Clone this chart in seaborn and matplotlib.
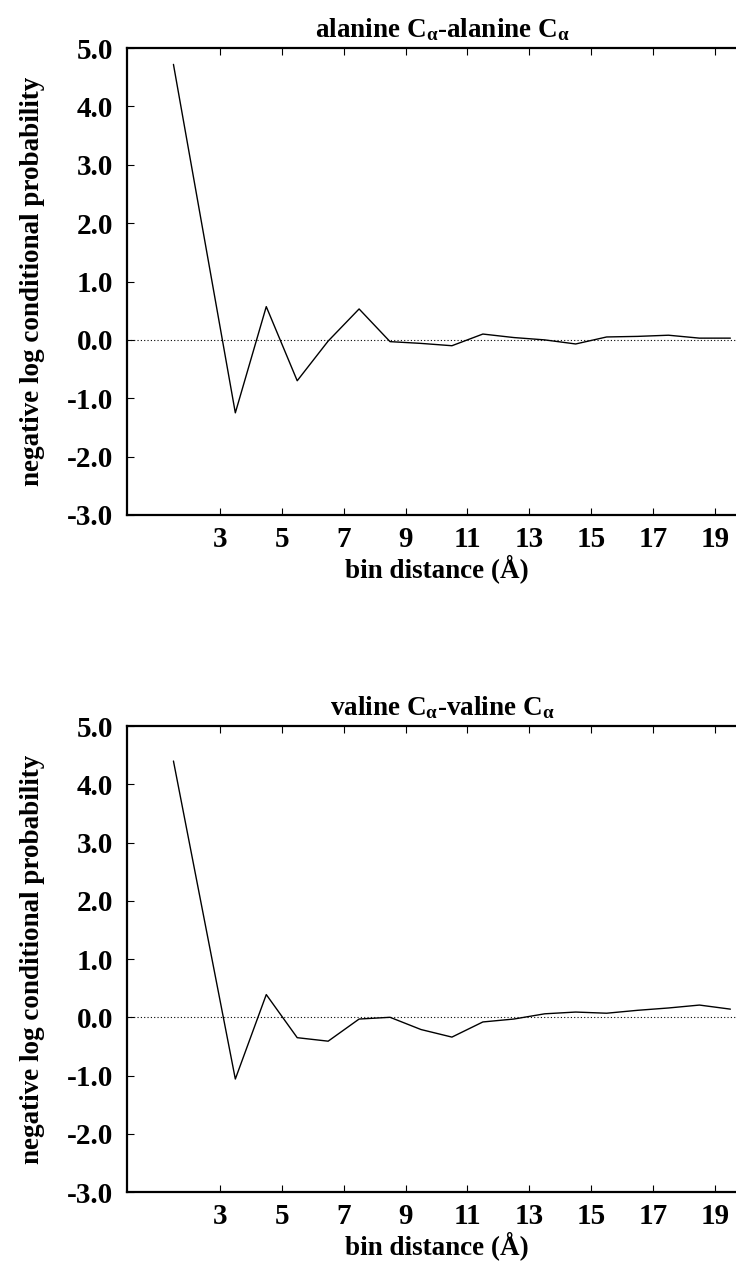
"""Negative log conditional probability vs bin distance, two residue pairs."""
import numpy as np
import pandas as pd
import matplotlib
matplotlib.use('Agg')
import matplotlib.pyplot as plt
import seaborn as sns

sns.set_theme(style="ticks")
plt.rcParams['font.family'] = ['Liberation Serif', 'DejaVu Serif']
plt.rcParams['font.weight'] = 'bold'
plt.rcParams['text.color'] = 'black'
plt.rcParams['axes.labelcolor'] = 'black'
plt.rcParams['mathtext.fontset'] = 'custom'
plt.rcParams['mathtext.rm'] = 'Liberation Serif:bold'
plt.rcParams['mathtext.it'] = 'Liberation Serif:bold'
plt.rcParams['mathtext.bf'] = 'Liberation Serif:bold'
plt.rcParams['mathtext.sf'] = 'Liberation Serif'
plt.rcParams['mathtext.default'] = 'rm'

# --- data ---
bin_dist = [1.5, 3.5, 4.5, 5.5, 6.5, 7.5, 8.5, 9.5, 10.5, 11.5,
            12.5, 13.5, 14.5, 15.5, 16.5, 17.5, 18.5, 19.5]
ala_ala = [4.72, -1.25, 0.57, -0.70, -0.02, 0.53, -0.03, -0.06, -0.10, 0.10,
           0.04, 0.00, -0.07, 0.05, 0.06, 0.08, 0.03, 0.03]
val_val = [4.40, -1.06, 0.39, -0.35, -0.41, -0.03, 0.00, -0.21, -0.34, -0.08,
           -0.03, 0.06, 0.09, 0.07, 0.12, 0.16, 0.21, 0.14]

titles = [r'alanine C$_{\mathsf{\alpha}}$-alanine C$_{\mathsf{\alpha}}$',
          r'valine C$_{\mathsf{\alpha}}$-valine C$_{\mathsf{\alpha}}$']
x_ticks = [3, 5, 7, 9, 11, 13, 15, 17, 19]
y_ticks = [-3, -2, -1, 0, 1, 2, 3, 4, 5]

fig = plt.figure(figsize=(7.36, 12.61), dpi=100)
ax_top = fig.add_axes([0.1726, 0.5916, 0.8408, 0.3703])
ax_bot = fig.add_axes([0.1726, 0.0547, 0.8408, 0.3695])

FS_TICK = 21
FS_LAB = 19.5
for ax, vals, title in zip([ax_top, ax_bot], [ala_ala, val_val], titles):
    df = pd.DataFrame({'dist': bin_dist, 'nlp': vals})
    sns.lineplot(data=df, x='dist', y='nlp', color='black', linewidth=1.0, ax=ax)
    ax.axhline(0, color='black', linestyle=(0, (1, 2)), linewidth=0.8)

    ax.set_xlim(0, 20)
    ax.set_ylim(-3, 5)
    ax.set_xticks(x_ticks)
    ax.set_xticklabels([str(t) for t in x_ticks])
    ax.set_yticks(y_ticks)
    ax.set_yticklabels([f'{t:.1f}' for t in y_ticks])
    ax.tick_params(axis='both', direction='in', length=5, width=0.8,
                   top=True, right=True, labelsize=FS_TICK, colors='black')
    ax.tick_params(axis='x', pad=8)
    ax.tick_params(axis='y', pad=10)
    for lab in ax.get_xticklabels() + ax.get_yticklabels():
        lab.set_fontweight('bold')
    for sp in ax.spines.values():
        sp.set_linewidth(1.6)
        sp.set_color('black')

    ax.set_xlabel('bin distance (Å)', fontsize=FS_LAB, fontweight='bold', labelpad=1)
    ax.set_ylabel('negative log conditional probability', fontsize=FS_LAB,
                  fontweight='bold', labelpad=16)
    ax.set_title(title, fontsize=FS_LAB, fontweight='bold', pad=8)
    ax.title.set_x(0.509)
    ax.xaxis.label.set_x(0.5)

fig.savefig('out.png', dpi=100)
